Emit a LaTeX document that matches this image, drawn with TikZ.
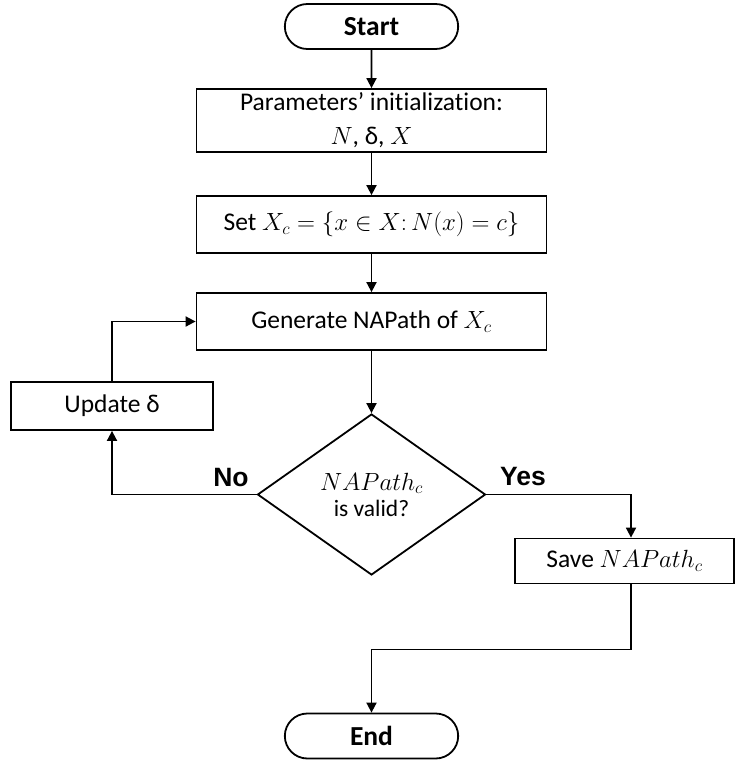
\documentclass[tikz,border=0pt]{standalone}
\usepackage{fontspec}
\setmainfont{Carlito}[Ligatures=NoCommon]
\newfontfamily\labelfont{Liberation Sans}
\usetikzlibrary{shapes.geometric,shapes.misc,arrows.meta}

\begin{document}
\begin{tikzpicture}[x=1pt,y=-1pt,
    every node/.style={font=\fontsize{25.5}{30}\selectfont},
    box/.style={draw,line width=1.8pt,rectangle,align=center,inner sep=0pt},
    term/.style={draw,line width=1.8pt,rounded rectangle,minimum width=180pt,minimum height=45pt,font=\fontsize{27.5}{32}\selectfont\bfseries},
    decide/.style={draw,line width=1.8pt,diamond,minimum width=228pt,minimum height=161pt,inner sep=0pt,align=center,font=\fontsize{23.5}{26}\selectfont},
    arr/.style={line width=1.8pt,-{Triangle[length=10pt,width=10pt]}},
    ans/.style={font=\labelfont\fontsize{26.5}{30}\selectfont\bfseries}]
\useasboundingbox (0,0) rectangle (736,762);

\node[term] (start) at (371.5,26.5) {Start};
\node[box,minimum width=350pt,minimum height=63pt,font=\fontsize{25.5}{34}\selectfont] (init) at (371.5,120.5) {Parameters’ initialization:\\$N$, δ, $X$};
\node[box,minimum width=350pt,minimum height=57pt] (setx) at (371.5,224.5) {Set $X_c=\{x\in X\colon N(x)=c\}$};
\node[box,minimum width=350pt,minimum height=57pt] (gen) at (371.5,321.5) {Generate NAPath of $X_c$};
\node[decide] (check) at (371.5,494.5) {$NAPath_c$\\is valid?};
\node[box,minimum width=202pt,minimum height=48pt] (update) at (112,406) {Update δ};
\node[box,minimum width=219pt,minimum height=45pt] (save) at (624.5,561) {Save $NAPath_c$};
\node[term] (end) at (371.5,736) {End};

\node[ans] (no) at (231,478) {No};
\node[ans] (yes) at (523,477) {Yes};

\draw[arr] (start) -- (init);
\draw[arr] (init) -- (setx);
\draw[arr] (setx) -- (gen);
\draw[arr] (gen) -- (check);
\draw[arr] (check.west) -| (update.south);
\draw[arr] (update.north) |- (gen.west);
\draw[arr] (check.east) -| ([xshift=6.5pt]save.north);
\draw[arr] ([xshift=6.5pt]save.south) -- ++(0,65) -| (end.north);
\end{tikzpicture}
\end{document}
